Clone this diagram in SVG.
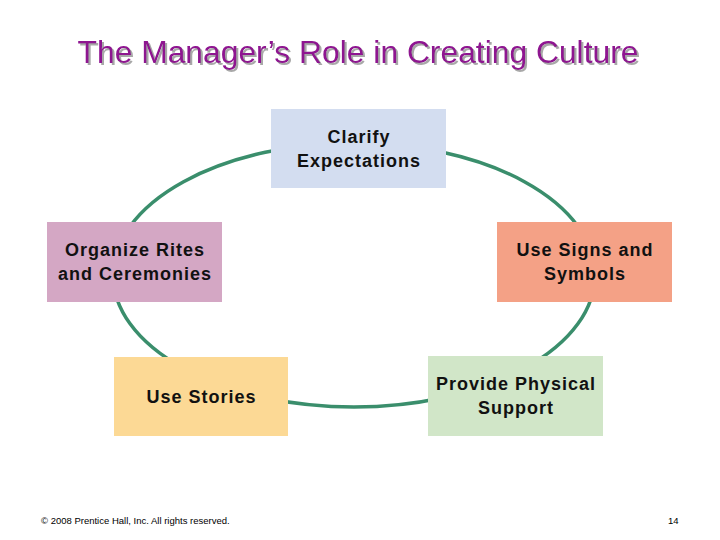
<svg xmlns="http://www.w3.org/2000/svg" width="720" height="540" viewBox="0 0 720 540">
<defs>
<filter id="sh" x="-5%" y="-20%" width="110%" height="150%">
<feDropShadow dx="2" dy="2" stdDeviation="0.6" flood-color="#A8A8A8" flood-opacity="1"/>
</filter>
<style>
.title{font-family:"Liberation Sans",Arial,sans-serif;font-size:31.8px;fill:#8E1290;text-anchor:middle}
.lbl{font-family:"Liberation Sans",Arial,sans-serif;font-size:18px;font-weight:bold;fill:#111;text-anchor:middle;letter-spacing:1px}
.foot{font-family:"Liberation Sans",Arial,sans-serif;font-size:9.5px;fill:#000}
.conn{fill:none;stroke:#3A8E6C;stroke-width:3.5}
</style>
</defs>
<rect width="720" height="540" fill="#fff"/>
<text class="title" x="358" y="63" filter="url(#sh)">The Manager’s Role in Creating Culture</text>
<g id="connectors">
<ellipse class="conn" cx="354" cy="275" rx="241" ry="132"/>
</g>
<g id="clarify">
<rect x="271" y="109" width="175" height="79" fill="#D3DDF0"/>
<text class="lbl" x="359" y="143">Clarify</text>
<text class="lbl" x="359" y="167">Expectations</text>
</g>
<g id="rites">
<rect x="47" y="222" width="175" height="80" fill="#D4A7C4"/>
<text class="lbl" x="135" y="256">Organize Rites</text>
<text class="lbl" x="135" y="280">and Ceremonies</text>
</g>
<g id="signs">
<rect x="497" y="222" width="175" height="80" fill="#F4A186"/>
<text class="lbl" x="585" y="256">Use Signs and</text>
<text class="lbl" x="585" y="280">Symbols</text>
</g>
<g id="stories">
<rect x="114" y="357" width="174" height="79" fill="#FCD995"/>
<text class="lbl" x="201.5" y="403">Use Stories</text>
</g>
<g id="physical">
<rect x="428" y="356" width="175" height="80" fill="#D1E6C8"/>
<text class="lbl" x="516" y="390">Provide Physical</text>
<text class="lbl" x="516" y="414">Support</text>
</g>
<text class="foot" x="41" y="524">© 2008 Prentice Hall, Inc. All rights reserved.</text>
<text class="foot" x="668" y="524">14</text>
</svg>
